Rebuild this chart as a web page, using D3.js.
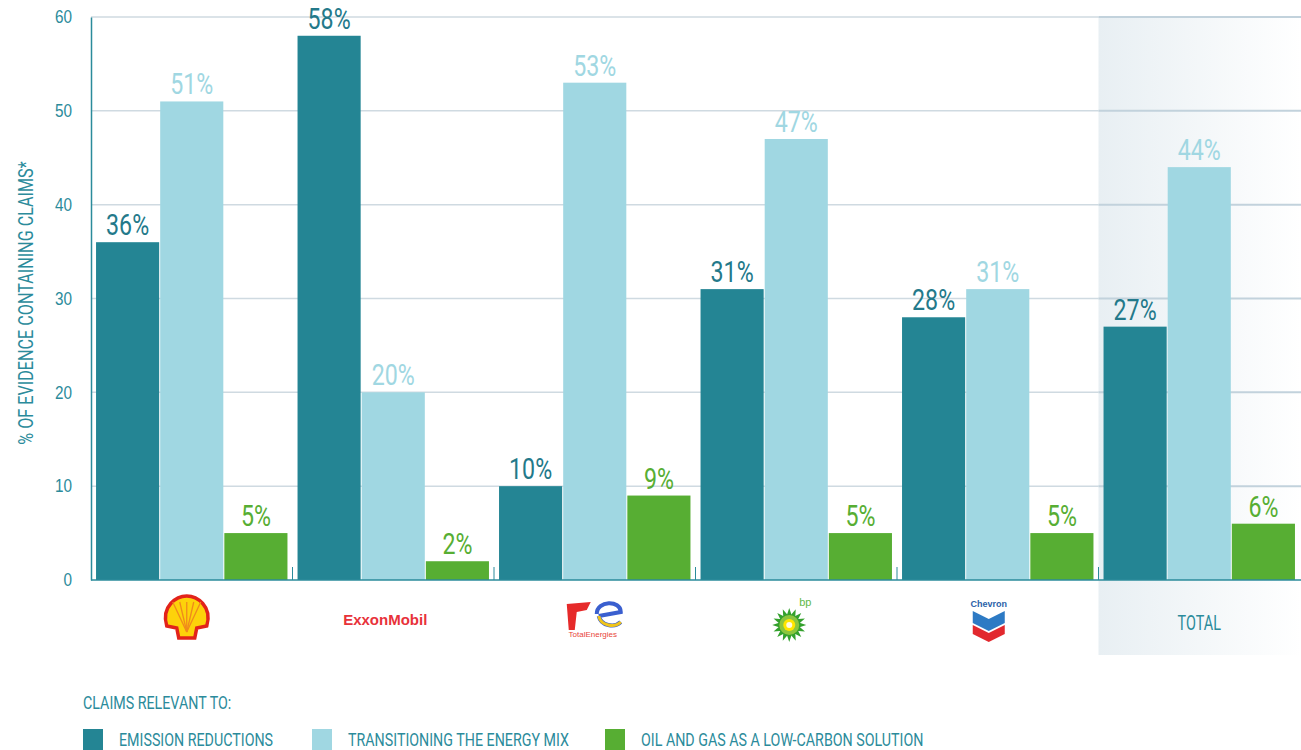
<!DOCTYPE html>
<html>
<head>
<meta charset="utf-8">
<script src="https://cdn.jsdelivr.net/npm/d3@7"></script>
<style>
  body { margin: 0; background: #fff; }
  svg { display: block; font-family: "Roboto", "Noto Sans", sans-serif; }
</style>
</head>
<body>
<div id="chart"></div>
<script>
// data
const companies = ["Shell", "ExxonMobil", "TotalEnergies", "bp", "Chevron", "TOTAL"];
const seriesNames = ["EMISSION REDUCTIONS", "TRANSITIONING THE ENERGY MIX", "OIL AND GAS AS A LOW-CARBON SOLUTION"];
const emissionReductions = [36, 58, 10, 31, 28, 27];
const energyMix = [51, 20, 53, 47, 31, 44];
const oilGas = [5, 2, 9, 5, 5, 6];
const yTicks = [0, 10, 20, 30, 40, 50, 60];

const colors = ["#248594", "#a0d7e2", "#57ae33"];
const labelColors = ["#23798a", "#a0d7e2", "#57ae33"];
const teal = "#2b8b9b";

const W = 1301, H = 750;
const margin = { top: 17, right: 1, bottom: 170, left: 91 };

// squeeze text horizontally to mimic the condensed font of the original
function condense(sel, ratio) {
  sel.each(function() {
    const len = this.getComputedTextLength();
    d3.select(this)
      .attr("textLength", len * ratio)
      .attr("lengthAdjust", "spacingAndGlyphs");
  });
}

const svg = d3.select("#chart").append("svg")
  .attr("width", W).attr("height", H);

const x0 = d3.scaleBand()
  .domain(companies)
  .range([margin.left, W - margin.right])
  .paddingInner(0.05)
  .paddingOuter(0.025);

const x1 = d3.scaleBand()
  .domain(d3.range(3))
  .range([0, x0.bandwidth()])
  .paddingInner(0.016);

const y = d3.scaleLinear()
  .domain([0, 60])
  .range([H - margin.bottom, margin.top]);

const rows = companies.map((c, i) => ({
  company: c,
  values: [emissionReductions[i], energyMix[i], oilGas[i]]
}));

// gradient background for the TOTAL column
const defs = svg.append("defs");
const grad = defs.append("linearGradient").attr("id", "totalBg");
grad.append("stop").attr("offset", "0%").attr("stop-color", "#e8eff3");
grad.append("stop").attr("offset", "100%").attr("stop-color", "#ffffff");

const step = x0.step();
const totalLeft = x0("TOTAL") - (step - x0.bandwidth()) / 2;
svg.append("rect")
  .attr("x", totalLeft)
  .attr("y", y(60))
  .attr("width", W - totalLeft)
  .attr("height", 655 - y(60))
  .attr("fill", "url(#totalBg)");

// gridlines
svg.append("g")
  .selectAll("line")
  .data(yTicks.filter(d => d > 0))
  .join("line")
  .attr("x1", margin.left).attr("x2", totalLeft)
  .attr("y1", d => y(d)).attr("y2", d => y(d))
  .attr("stroke", "#cfdae1").attr("stroke-width", 1.5);

svg.append("g")
  .selectAll("line")
  .data(yTicks.filter(d => d > 0))
  .join("line")
  .attr("x1", totalLeft).attr("x2", W)
  .attr("y1", d => y(d)).attr("y2", d => y(d))
  .attr("stroke", "#c2d2dc").attr("stroke-width", 2);

// bars
const groups = svg.append("g")
  .selectAll("g")
  .data(rows)
  .join("g")
  .attr("transform", d => `translate(${x0(d.company)},0)`);

groups.selectAll("rect")
  .data(d => d.values)
  .join("rect")
  .attr("x", (d, i) => x1(i))
  .attr("y", d => y(d))
  .attr("width", x1.bandwidth())
  .attr("height", d => y(0) - y(d))
  .attr("fill", (d, i) => colors[i]);

groups.selectAll("text")
  .data(d => d.values)
  .join("text")
  .attr("x", (d, i) => x1(i) + x1.bandwidth() / 2)
  .attr("y", d => y(d) - 7)
  .attr("text-anchor", "middle")
  .attr("font-size", 29)
  .attr("fill", (d, i) => labelColors[i])
  .text(d => d + "%")
  .call(condense, 0.8);

// y axis
const yAxis = svg.append("g")
  .attr("transform", `translate(${margin.left},0)`)
  .call(d3.axisLeft(y).tickValues(yTicks).tickSize(0).tickPadding(19));
yAxis.select(".domain").attr("stroke", teal).attr("stroke-width", 1.5);
yAxis.selectAll("text")
  .attr("font-size", 18)
  .attr("fill", teal)
  .attr("font-family", "inherit")
  .call(condense, 0.85);

// x axis baseline + small separators
svg.append("line")
  .attr("x1", margin.left).attr("x2", W)
  .attr("y1", y(0)).attr("y2", y(0))
  .attr("stroke", teal).attr("stroke-width", 1.5);

svg.append("g")
  .selectAll("line")
  .data(companies.slice(0, -1))
  .join("line")
  .attr("x1", d => x0(d) + x0.bandwidth() + (step - x0.bandwidth()) / 2)
  .attr("x2", d => x0(d) + x0.bandwidth() + (step - x0.bandwidth()) / 2)
  .attr("y1", y(0) - 13).attr("y2", y(0))
  .attr("stroke", teal).attr("stroke-width", 1);

// y axis title
svg.append("text")
  .attr("transform", `translate(33,303) rotate(-90)`)
  .attr("text-anchor", "middle")
  .attr("font-size", 21)
  .attr("fill", teal)
  .text("% OF EVIDENCE CONTAINING CLAIMS*")
  .call(condense, 0.77);

// company logos (rough drawings)
const cx = c => x0(c) + x0.bandwidth() / 2;
const logoY = 620;

// Shell
const shell = svg.append("g").attr("transform", `translate(${cx("Shell") - 5},${logoY})`);
shell.append("path")
  .attr("d", "M-20,6 C-26,-14 -10,-24 0,-24 C10,-24 26,-14 20,6 L10,8 L8,18 L-8,18 L-10,8 Z")
  .attr("fill", "#fdd20a").attr("stroke", "#e2231a").attr("stroke-width", 3.5);
shell.append("g").selectAll("line")
  .data([-14, -7, 0, 7, 14])
  .join("line")
  .attr("x1", 0).attr("y1", 12)
  .attr("x2", d => d).attr("y2", -18)
  .attr("stroke", "#f08a1c").attr("stroke-width", 1.3);

// ExxonMobil
svg.append("text")
  .attr("x", cx("ExxonMobil") - 8).attr("y", logoY + 5)
  .attr("text-anchor", "middle")
  .attr("font-family", "Liberation Sans, Arial, sans-serif")
  .attr("font-weight", "bold")
  .attr("font-size", 15)
  .attr("fill", "#e8323a")
  .text("ExxonMobil");

// TotalEnergies
const te = svg.append("g").attr("transform", `translate(${cx("TotalEnergies") - 2},${logoY})`);
te.append("path")
  .attr("d", "M-26,-16 L-2,-18 L-6,-10 L-16,-8 L-18,10 L-24,10 Z")
  .attr("fill", "#e62a2a");
te.append("path")
  .attr("d", "M4,-6 C4,-20 28,-20 28,-8 L6,-4 M6,-4 C8,6 22,8 28,2")
  .attr("fill", "none").attr("stroke", "#3a5fcf").attr("stroke-width", 4);
te.append("path")
  .attr("d", "M6,-4 C8,6 22,8 28,2")
  .attr("fill", "none").attr("stroke", "#f0c419").attr("stroke-width", 3);
te.append("text")
  .attr("x", 0).attr("y", 17)
  .attr("text-anchor", "middle")
  .attr("font-family", "Liberation Sans, Arial, sans-serif")
  .attr("font-size", 8)
  .attr("fill", "#e8453a")
  .text("TotalEnergies");

// bp
const bp = svg.append("g").attr("transform", `translate(${cx("bp") - 7},${logoY + 5})`);
bp.append("g").selectAll("path")
  .data(d3.range(16))
  .join("path")
  .attr("d", "M-3,-8 L0,-17 L3,-8 Z")
  .attr("transform", d => `rotate(${d * 22.5})`)
  .attr("fill", "#33a02c");
bp.append("circle").attr("r", 10).attr("fill", "#8cc63f");
bp.append("circle").attr("r", 6).attr("fill", "#ffe600");
bp.append("circle").attr("r", 3).attr("fill", "#fffbe0");
bp.append("text")
  .attr("x", 10).attr("y", -19)
  .attr("font-family", "Liberation Sans, Arial, sans-serif")
  .attr("font-size", 11)
  .attr("fill", "#5fb946")
  .text("bp");

// Chevron
const ch = svg.append("g").attr("transform", `translate(${cx("Chevron") - 9},${logoY})`);
ch.append("text")
  .attr("x", 0).attr("y", -13)
  .attr("text-anchor", "middle")
  .attr("font-family", "Liberation Sans, Arial, sans-serif")
  .attr("font-weight", "bold")
  .attr("font-size", 9)
  .attr("fill", "#2b5fa8")
  .text("Chevron");
ch.append("path").attr("d", "M-16,-9 L0,-1 L16,-9 L16,3 L0,11 L-16,3 Z").attr("fill", "#2d7ac4");
ch.append("path").attr("d", "M-16,5 L0,13 L16,5 L16,14 L0,22 L-16,14 Z").attr("fill", "#e2282e");

// TOTAL label
svg.append("text")
  .attr("x", cx("TOTAL")).attr("y", logoY + 10)
  .attr("text-anchor", "middle")
  .attr("font-size", 20)
  .attr("fill", teal)
  .text("TOTAL")
  .call(condense, 0.72);

// legend
svg.append("text")
  .attr("x", 83).attr("y", 709)
  .attr("font-size", 19)
  .attr("fill", teal)
  .text("CLAIMS RELEVANT TO:")
  .call(condense, 0.75);

const legendX = [83, 312, 605];
const legend = svg.append("g")
  .selectAll("g")
  .data(seriesNames)
  .join("g")
  .attr("transform", (d, i) => `translate(${legendX[i]},729)`);
legend.append("rect")
  .attr("width", 20).attr("height", 21)
  .attr("fill", (d, i) => colors[i]);
legend.append("text")
  .attr("x", 36).attr("y", 17)
  .attr("font-size", 19)
  .attr("fill", teal)
  .text(d => d)
  .call(condense, 0.75);
</script>
</body>
</html>
